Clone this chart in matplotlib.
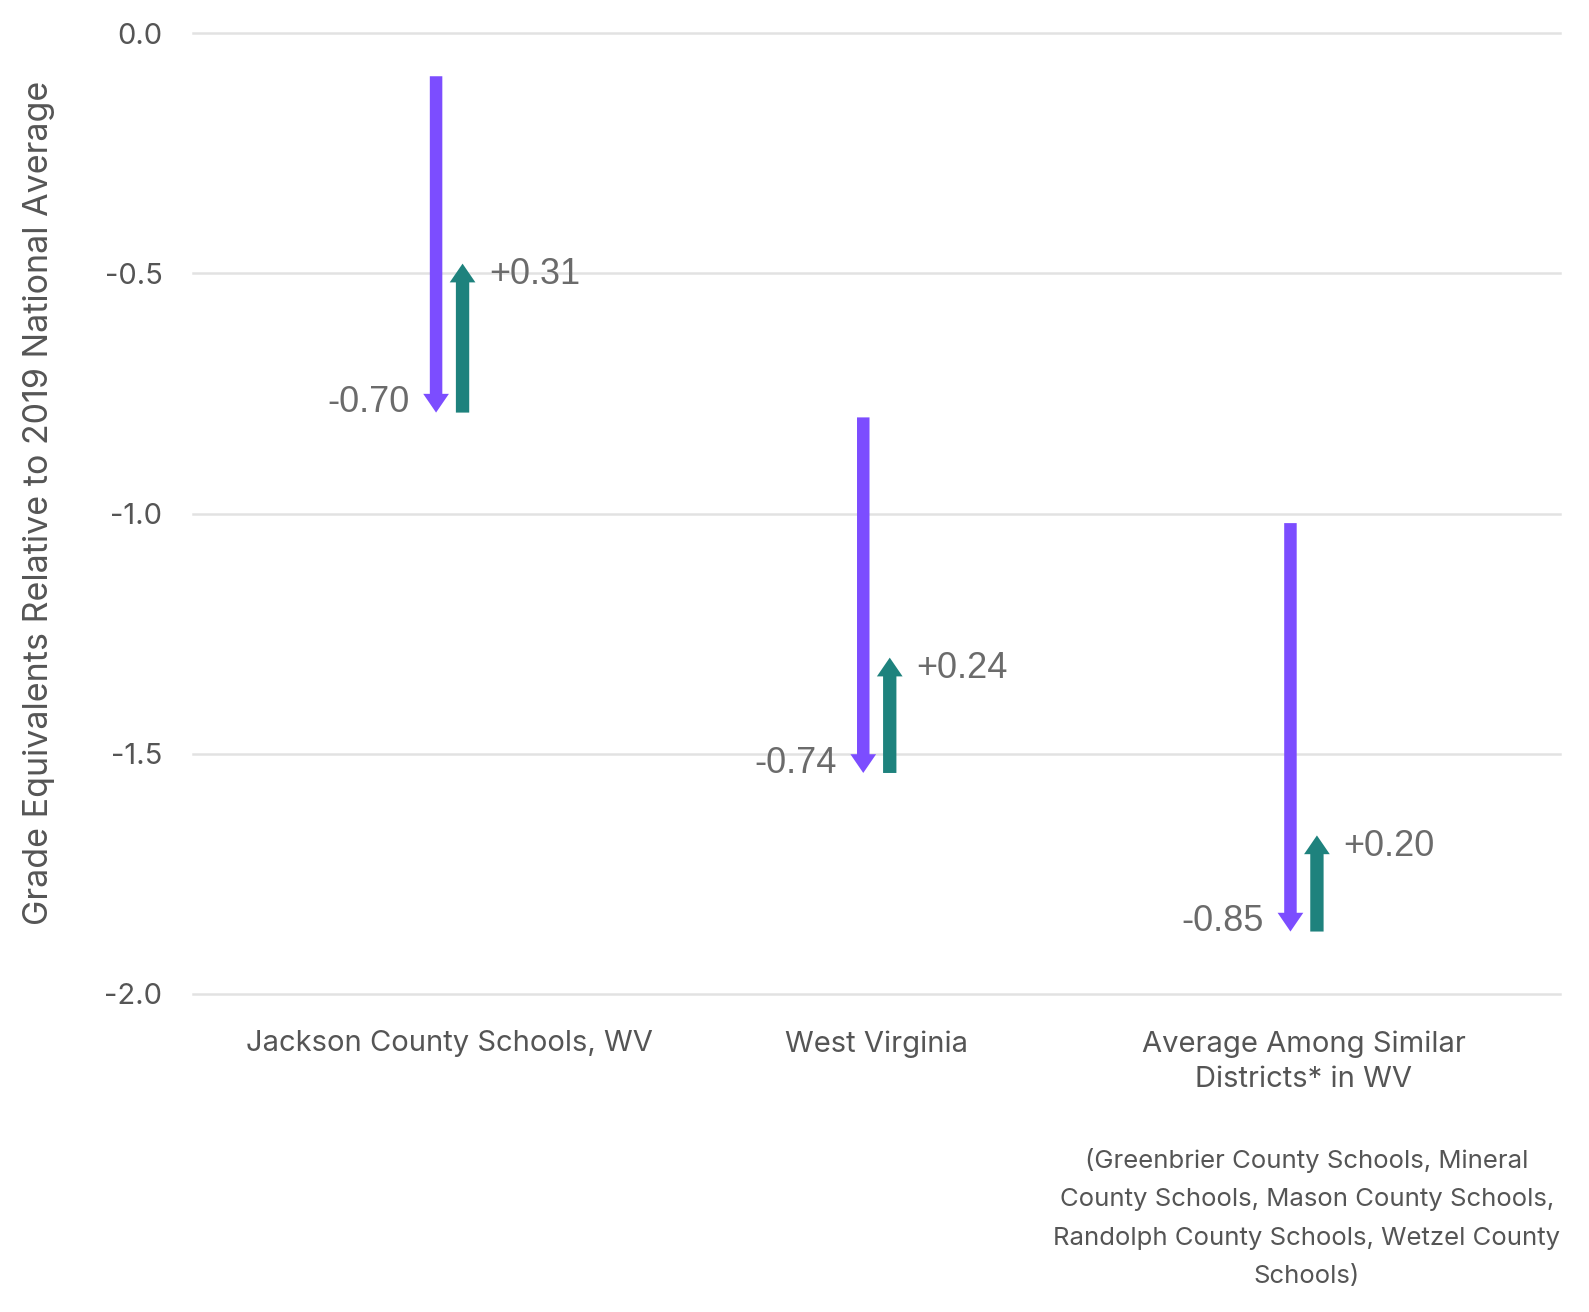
import matplotlib
matplotlib.use('Agg')
import matplotlib.pyplot as plt

plt.rcParams['font.family'] = ['Inter', 'DejaVu Sans']

categories = ['Jackson County Schools, WV', 'West Virginia',
              'Average Among Similar\nDistricts* in WV']
start_vals = [-0.09, -0.80, -1.02]
declines = [-0.70, -0.74, -0.85]
recoveries = [0.31, 0.24, 0.20]
yticks = [0.0, -0.5, -1.0, -1.5, -2.0]
footnote = ('(Greenbrier County Schools, Mineral\nCounty Schools, Mason County Schools,\n'
            'Randolph County Schools, Wetzel County\nSchools)')

PURPLE = '#7c4dff'
TEAL = '#1e827d'
GREY = '#555555'
VAL_GREY = '#6b6b6b'

fig = plt.figure(figsize=(15.89, 13.12), dpi=100)
ax = fig.add_axes([193 / 1589, 1 - 994 / 1312, (1560 - 193) / 1589, (994 - 33) / 1312])

ax.set_xlim(-0.6, 2.6)
ax.set_ylim(-2.0, 0.0)
for y in yticks:
    ax.axhline(y, color='#e2e2e2', lw=1.8, zorder=0, clip_on=False)

off = 0.031
for i, cat in enumerate(categories):
    s = start_vals[i]
    e = s + declines[i]
    r = e + recoveries[i]
    # decline arrow
    ax.annotate('', xy=(i - off, e), xytext=(i - off, s),
                arrowprops=dict(arrowstyle='simple,head_length=13.5,head_width=18.5,tail_width=9.0',
                                mutation_scale=1, color=PURPLE, lw=0,
                                shrinkA=0, shrinkB=0), annotation_clip=False)
    # recovery arrow
    ax.annotate('', xy=(i + off, r), xytext=(i + off, e),
                arrowprops=dict(arrowstyle='simple,head_length=13.5,head_width=18.5,tail_width=9.6',
                                mutation_scale=1, color=TEAL, lw=0,
                                shrinkA=0, shrinkB=0), annotation_clip=False)
    ax.annotate(f'{declines[i]:.2f}', xy=(i - off, e), xytext=(-19, 7),
                textcoords='offset points', ha='right', va='center',
                fontsize=26, color=VAL_GREY, family=['Liberation Sans', 'DejaVu Sans'])
    ax.annotate(f'+{recoveries[i]:.2f}', xy=(i + off, r), xytext=(19, -8),
                textcoords='offset points', ha='left', va='center',
                fontsize=26, color=VAL_GREY, family=['Liberation Sans', 'DejaVu Sans'])

ax.set_yticks(yticks)
ax.set_yticklabels([f'{v:.1f}' for v in yticks])
ax.tick_params(axis='y', length=0, pad=22, labelsize=21, labelcolor=GREY)
ax.set_xticks(range(len(categories)))
ax.set_xticklabels(categories, fontsize=21, color=GREY, linespacing=1.42)
ax.tick_params(axis='x', length=0, pad=26)
for sp in ax.spines.values():
    sp.set_visible(False)

fig.text(39 / 1589, 1 - 503 / 1312, 'Grade Equivalents Relative to 2019 National Average',
         rotation=90, ha='center', va='center', fontsize=24.5, color=GREY)
fig.text(1307 / 1589, 1 - 1218 / 1312, footnote, ha='center', va='center',
         fontsize=18.5, color=GREY, linespacing=1.85)

fig.savefig('out.png', dpi=100, facecolor='white')
